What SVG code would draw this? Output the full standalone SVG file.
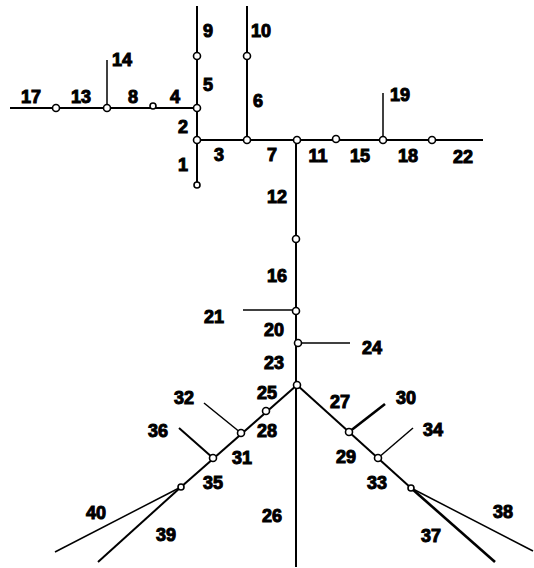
<svg xmlns="http://www.w3.org/2000/svg" width="534" height="568" viewBox="0 0 534 568">
<style>
.e{stroke:#000;stroke-width:2;fill:none;stroke-linecap:butt}
.t{stroke-width:1.5}
.k{stroke-width:2.6}
.n{fill:#fff;stroke:#000;stroke-width:1.6}
.l{font-family:"Liberation Sans Narrow","Liberation Sans",sans-serif;font-weight:bold;font-size:18px;fill:#000;text-anchor:middle;stroke:#000;stroke-width:1}
</style>
<rect width="534" height="568" fill="#fff"/>
<g id="connectors">
<line class="e" x1="10" y1="108" x2="197" y2="108"/>
<line class="e t" x1="107" y1="108" x2="107" y2="60"/>
<line class="e" x1="197" y1="6" x2="197" y2="185"/>
<line class="e" x1="247" y1="6" x2="247" y2="140"/>
<line class="e" x1="197" y1="140" x2="483" y2="140"/>
<line class="e t" x1="383" y1="140" x2="383" y2="93"/>
<line class="e" x1="296" y1="140" x2="296" y2="567"/>
<line class="e t" x1="243" y1="310" x2="296" y2="310"/>
<line class="e t" x1="298" y1="343" x2="350" y2="343"/>
<line class="e" x1="297" y1="385" x2="181" y2="487"/>
<line class="e t" x1="204" y1="403" x2="241" y2="433"/>
<line class="e" x1="179" y1="428" x2="213" y2="458"/>
<line class="e t" x1="181" y1="487" x2="55" y2="552"/>
<line class="e" x1="181" y1="487" x2="98" y2="562"/>
<line class="e" x1="297" y1="385" x2="411" y2="488"/>
<line class="e k" x1="349" y1="432" x2="385" y2="404"/>
<line class="e t" x1="378" y1="458" x2="413" y2="428"/>
<line class="e k" x1="411" y1="488" x2="495" y2="562"/>
<line class="e t" x1="411" y1="488" x2="533" y2="551"/>
</g>
<g id="nodes">
<g id="n1"><circle class="n" cx="56" cy="108" r="3.5"/></g>
<g id="n2"><circle class="n" cx="107" cy="108" r="3.5"/></g>
<g id="n3"><circle class="n" cx="153" cy="106" r="3"/></g>
<g id="n4"><circle class="n" cx="197" cy="108" r="3.5"/></g>
<g id="n5"><circle class="n" cx="197" cy="56" r="3.5"/></g>
<g id="n6"><circle class="n" cx="247" cy="56" r="3.5"/></g>
<g id="n7"><circle class="n" cx="197" cy="140" r="3.5"/></g>
<g id="n8"><circle class="n" cx="197" cy="185" r="3"/></g>
<g id="n9"><circle class="n" cx="247" cy="140" r="3.5"/></g>
<g id="n10"><circle class="n" cx="297" cy="140" r="3.5"/></g>
<g id="n11"><circle class="n" cx="336" cy="139" r="3.5"/></g>
<g id="n12"><circle class="n" cx="383" cy="140" r="3.5"/></g>
<g id="n13"><circle class="n" cx="432" cy="140" r="3.5"/></g>
<g id="n14"><circle class="n" cx="296" cy="239" r="3.5"/></g>
<g id="n15"><circle class="n" cx="296" cy="311" r="3.5"/></g>
<g id="n16"><circle class="n" cx="298" cy="343" r="3.5"/></g>
<g id="n17"><circle class="n" cx="297" cy="385" r="3.5"/></g>
<g id="n18"><circle class="n" cx="266" cy="411" r="3.5"/></g>
<g id="n19"><circle class="n" cx="241" cy="433" r="3.5"/></g>
<g id="n20"><circle class="n" cx="213" cy="458" r="3.5"/></g>
<g id="n21"><circle class="n" cx="181" cy="487" r="3"/></g>
<g id="n22"><circle class="n" cx="349" cy="432" r="3.5"/></g>
<g id="n23"><circle class="n" cx="378" cy="458" r="3.5"/></g>
<g id="n24"><circle class="n" cx="411" cy="488" r="3"/></g>
</g>
<g id="labels">
<text class="l" x="183" y="171">1</text>
<text class="l" x="183" y="133">2</text>
<text class="l" x="219" y="161">3</text>
<text class="l" x="175" y="103">4</text>
<text class="l" x="208" y="91">5</text>
<text class="l" x="258" y="107">6</text>
<text class="l" x="272" y="161">7</text>
<text class="l" x="133" y="103">8</text>
<text class="l" x="208" y="37">9</text>
<text class="l" x="261" y="37">10</text>
<text class="l" x="318" y="162">11</text>
<text class="l" x="277" y="203">12</text>
<text class="l" x="81" y="103">13</text>
<text class="l" x="122" y="66">14</text>
<text class="l" x="360" y="162">15</text>
<text class="l" x="277" y="282">16</text>
<text class="l" x="31" y="103">17</text>
<text class="l" x="408" y="162">18</text>
<text class="l" x="400" y="101">19</text>
<text class="l" x="274" y="336">20</text>
<text class="l" x="214" y="323">21</text>
<text class="l" x="463" y="163">22</text>
<text class="l" x="274" y="369">23</text>
<text class="l" x="372" y="354">24</text>
<text class="l" x="267" y="399">25</text>
<text class="l" x="272" y="522">26</text>
<text class="l" x="340" y="408">27</text>
<text class="l" x="267" y="437">28</text>
<text class="l" x="346" y="463">29</text>
<text class="l" x="406" y="404">30</text>
<text class="l" x="242" y="464">31</text>
<text class="l" x="184" y="404">32</text>
<text class="l" x="377" y="489">33</text>
<text class="l" x="433" y="436">34</text>
<text class="l" x="213" y="489">35</text>
<text class="l" x="158" y="437">36</text>
<text class="l" x="431" y="542">37</text>
<text class="l" x="503" y="518">38</text>
<text class="l" x="166" y="541">39</text>
<text class="l" x="96" y="519">40</text>
</g>
</svg>
